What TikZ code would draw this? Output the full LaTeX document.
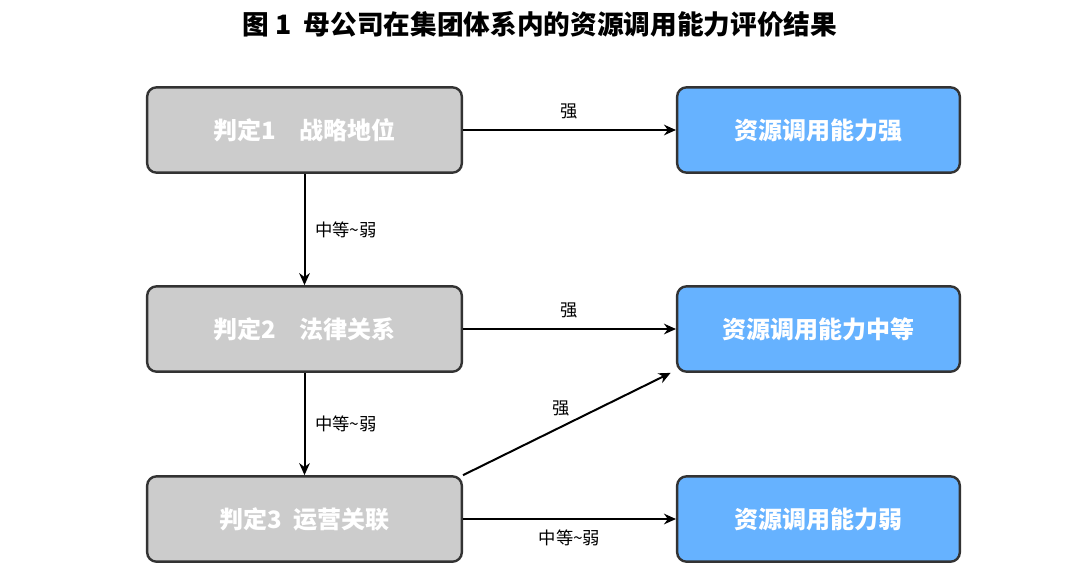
\documentclass[tikz,border=0pt]{standalone}
\usepackage{fontspec}
\setmainfont{Liberation Sans}
\newfontfamily\cjk{Noto Sans CJK SC}
\usetikzlibrary{arrows.meta,positioning}
\definecolor{judgegray}{HTML}{CCCCCC}
\definecolor{resblue}{HTML}{66B2FF}
\definecolor{edgedark}{HTML}{333333}
\begin{document}
\begin{tikzpicture}[x=0.75pt, y=-0.75pt,
  judge/.style = {draw=edgedark, line width=1.8pt, rounded corners=7pt, fill=judgegray,
    minimum width=236pt, minimum height=64pt, text=white, font=\cjk\bfseries\fontsize{18}{20}\selectfont},
  result/.style = {judge, fill=resblue, minimum width=212pt},
  arrow/.style = {line width=1.5pt, -{Stealth[length=9pt,width=8pt]}},
  lbl/.style = {font=\cjk\fontsize{13}{15}\selectfont}]
\useasboundingbox (0,0) rectangle (1080,576);
\node[font=\cjk\bfseries\fontsize{20}{22}\selectfont] (title) at (540,24) {图 1\ \ 母公司在集团体系内的资源调用能力评价结果};

\node[judge] (j1) at (304.5,130) {判定1\quad 战略地位};
\node[judge] (j2) at (304.5,329) {判定2\quad 法律关系};
\node[judge] (j3) at (304.5,519) {判定3\ \ 运营关联};
\node[result] (r1) at (818.5,130) {资源调用能力强};
\node[result] (r2) at (818.5,329) {资源调用能力中等};
\node[result] (r3) at (818.5,519) {资源调用能力弱};

\draw[arrow] (j1) -- node[lbl, above=4pt] {强} (r1);
\draw[arrow] (j1) -- node[lbl, right=4pt] {中等\textasciitilde 弱} (j2);
\draw[arrow] (j2) -- node[lbl, above=4pt] {强} (r2);
\draw[arrow] (j2) -- node[lbl, right=4pt] {中等\textasciitilde 弱} (j3);
\draw[arrow] (j3.north east) -- node[lbl, above left=2pt and -6pt] {强} ([xshift=-4pt]r2.south west);
\draw[arrow] (j3) -- node[lbl, below=4pt] {中等\textasciitilde 弱} (r3);
\end{tikzpicture}
\end{document}
